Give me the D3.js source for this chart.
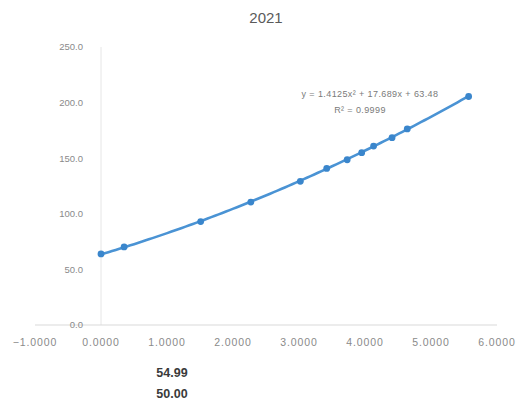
<!DOCTYPE html>
<html>
<head>
<meta charset="utf-8">
<script src="https://cdn.jsdelivr.net/npm/d3@7"></script>
<style>
  html, body { margin: 0; padding: 0; background: #ffffff; }
  svg { display: block; font-family: "Liberation Sans", Arial, sans-serif; }
</style>
</head>
<body>
<svg id="chart" width="525" height="408"></svg>
<script>
// Measured series (x, y)
const xValues = [0.00, 0.35, 1.51, 2.27, 3.02, 3.42, 3.73, 3.95, 4.13, 4.41, 4.64, 5.57];
const yValues = [63.9, 70.2, 93.0, 110.5, 129.2, 140.8, 148.6, 155.0, 160.9, 168.5, 176.3, 205.5];

// Axis ticks
const xTicks = [-1, 0, 1, 2, 3, 4, 5, 6];
const yTicks = [0, 50, 100, 150, 200, 250];

// Polynomial trendline coefficients (order 2): y = a x^2 + b x + c
const trendCoef = [1.4125, 17.689, 63.48];
const trendLabel = "y = 1.4125x² + 17.689x + 63.48";
const r2Label = "R² = 0.9999";

// Values in the cells below the chart
const cellValues = ["54.99", "50.00"];

const svg = d3.select("#chart");

const x = d3.scaleLinear().domain([-1, 6]).range([35, 497]);
const y = d3.scaleLinear().domain([0, 250]).range([325, 47]);

// Title
svg.append("text")
  .attr("x", 266).attr("y", 23)
  .attr("text-anchor", "middle")
  .attr("font-size", 15)
  .attr("fill", "#5a5a5a")
  .text("2021");

// Vertical value axis line at x = 0
svg.append("line")
  .attr("x1", x(0)).attr("x2", x(0))
  .attr("y1", y(250)).attr("y2", y(0))
  .attr("stroke", "#e6e6e6").attr("stroke-width", 1);

// Horizontal axis line at y = 0
svg.append("line")
  .attr("x1", x(-1)).attr("x2", x(6))
  .attr("y1", y(0)).attr("y2", y(0))
  .attr("stroke", "#d9d9d9").attr("stroke-width", 1);

// Y tick labels
svg.append("g")
  .selectAll("text")
  .data(yTicks)
  .join("text")
  .attr("x", 83)
  .attr("y", d => y(d))
  .attr("dy", "0.35em")
  .attr("text-anchor", "end")
  .attr("font-size", 9.5)
  .attr("fill", "#8a8a8a")
  .text(d => d3.format(".1f")(d));

// X tick labels
svg.append("g")
  .selectAll("text")
  .data(xTicks)
  .join("text")
  .attr("x", d => x(d))
  .attr("y", 346)
  .attr("text-anchor", "middle")
  .attr("font-size", 10.5)
  .attr("letter-spacing", 0.9)
  .attr("fill", "#8a8a8a")
  .text(d => d3.format(".4f")(d));

// Trendline over the data range
const [a, b, c] = trendCoef;
const xMin = d3.min(xValues), xMax = d3.max(xValues);
const trendPts = d3.range(0, 101).map(i => {
  const xv = xMin + (xMax - xMin) * i / 100;
  return [xv, a * xv * xv + b * xv + c];
});
svg.append("path")
  .datum(trendPts)
  .attr("fill", "none")
  .attr("stroke", "#4a93d4")
  .attr("stroke-width", 2.6)
  .attr("stroke-linecap", "round")
  .attr("d", d3.line().x(d => x(d[0])).y(d => y(d[1])));

// Markers
svg.append("g")
  .selectAll("circle")
  .data(xValues.map((v, i) => [v, yValues[i]]))
  .join("circle")
  .attr("cx", d => x(d[0]))
  .attr("cy", d => y(d[1]))
  .attr("r", 3.4)
  .attr("fill", "#3a86cc");

// Trendline equation and R²
svg.append("text")
  .attr("x", 370).attr("y", 97)
  .attr("text-anchor", "middle")
  .attr("font-size", 9)
  .attr("letter-spacing", 0.4)
  .attr("fill", "#7a7a7a")
  .text(trendLabel);
svg.append("text")
  .attr("x", 360).attr("y", 113)
  .attr("text-anchor", "middle")
  .attr("font-size", 9)
  .attr("letter-spacing", 0.4)
  .attr("fill", "#7a7a7a")
  .text(r2Label);

// Cell values below the chart
svg.append("g")
  .selectAll("text")
  .data(cellValues)
  .join("text")
  .attr("x", 172)
  .attr("y", (d, i) => 377 + i * 21)
  .attr("text-anchor", "middle")
  .attr("font-size", 12.5)
  .attr("font-weight", "bold")
  .attr("fill", "#3a3a3a")
  .text(d => d);
</script>
</body>
</html>
